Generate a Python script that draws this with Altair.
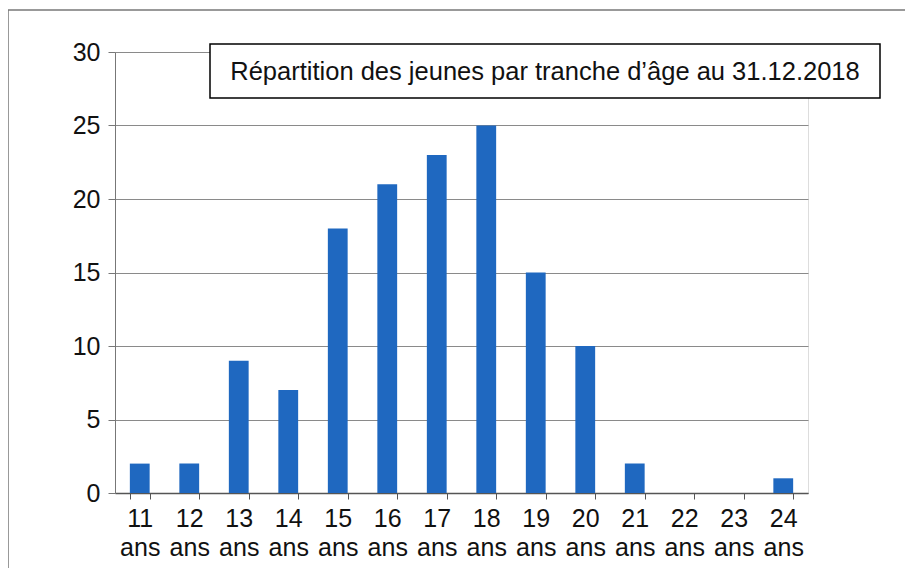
import altair as alt
import pandas as pd

categories = ["11 ans", "12 ans", "13 ans", "14 ans", "15 ans", "16 ans", "17 ans",
              "18 ans", "19 ans", "20 ans", "21 ans", "22 ans", "23 ans", "24 ans"]
values = [2, 2, 9, 7, 18, 21, 23, 25, 15, 10, 2, 0, 0, 1]
title_text = "Répartition des jeunes par tranche d’âge au 31.12.2018"

df = pd.DataFrame({"age": categories, "n": values})
one = pd.DataFrame({"k": [0]})

FONT = "Liberation Sans"

bars = alt.Chart(df).mark_bar(color="#1f68c0", strokeWidth=0).encode(
    x=alt.X("age:N", sort=categories, title=None,
            scale=alt.Scale(paddingInner=0.6, paddingOuter=0.3),
            axis=alt.Axis(labelAngle=0, labelExpr="split(datum.label, ' ')",
                          labelFontSize=25, labelFont=FONT, labelColor="#111",
                          labelLineHeight=29, labelPadding=7, tickBand="extent",
                          tickSize=6, tickColor="#555", domainColor="#555",
                          domainWidth=1.5, grid=False)),
    y=alt.Y("n:Q", title=None,
            scale=alt.Scale(domain=[0, 30], nice=False),
            axis=alt.Axis(values=[0, 5, 10, 15, 20, 25, 30], labelFontSize=25,
                          labelFont=FONT, labelColor="#111", labelPadding=8,
                          tickSize=7, tickColor="#777", domainColor="#777",
                          gridColor="#8a8a8a", gridWidth=1.2, grid=True)),
)

box = alt.Chart(one).mark_rect(fill="white", stroke="black", strokeWidth=1.5).encode(
    x=alt.value(95), x2=alt.value(765), y=alt.value(-8), y2=alt.value(46)
)
txt = alt.Chart(one).mark_text(font=FONT, fontSize=25.5, color="#111").encode(
    x=alt.value(430), y=alt.value(20), text=alt.value(title_text)
)
top_border = alt.Chart(one).mark_rule(color="#777", strokeWidth=1.5).encode(
    x=alt.value(-107), x2=alt.value(800), y=alt.value(-42)
)
left_border = alt.Chart(one).mark_rule(color="#777", strokeWidth=1.5).encode(
    x=alt.value(-107), y=alt.value(-42), y2=alt.value(530)
)

chart = alt.layer(bars, top_border, left_border, box, txt).properties(
    width=693, height=441,
    autosize=alt.AutoSizeParams(type="none"),
    padding={"left": 107, "top": 44, "right": 97, "bottom": 75},
).configure_view(stroke=None).configure(background="white")

chart.save("out.html", embed_options={"renderer": "svg", "actions": False})
